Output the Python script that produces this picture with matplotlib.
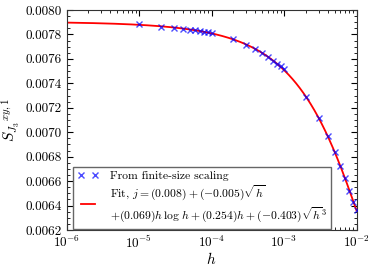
import numpy as np
import matplotlib
matplotlib.use("Agg")
import matplotlib.pyplot as plt
from matplotlib.ticker import AutoMinorLocator, LogLocator, NullFormatter

plt.rcParams['font.family'] = ['cmr10', 'DejaVu Serif']
plt.rcParams['mathtext.fontset'] = 'cm'
plt.rcParams['axes.formatter.use_mathtext'] = True
plt.rcParams['font.size'] = 9

# data
h_vals = [1e-5, 2e-5, 3e-5, 4e-5, 5e-5, 6e-5, 7e-5, 8e-5, 9e-5, 1e-4,
          2e-4, 3e-4, 4e-4, 5e-4, 6e-4, 7e-4, 8e-4, 9e-4, 1e-3,
          2e-3, 3e-3, 4e-3, 5e-3, 6e-3, 7e-3, 8e-3, 9e-3, 1e-2]
s_vals = [0.007883, 0.007863, 0.007855, 0.007847, 0.007839, 0.007834, 0.007828, 0.007822, 0.007818, 0.007812,
          0.007760, 0.007714, 0.007678, 0.007646, 0.007618, 0.007585, 0.007560, 0.007540, 0.007520,
          0.007286, 0.007114, 0.006969, 0.006840, 0.006723, 0.006622, 0.006521, 0.006431, 0.006363]

legend_points = "From finite-size scaling"
legend_fit = ("Fit, $j=(0.008)+(-0.005)\\sqrt{h}$\n"
              "$+(0.069)h\\,\\log\\,h+(0.254)h+(-0.403)\\sqrt{h}^3$")

xlim = (1e-6, 1e-2)
ylim = (0.0062, 0.0080)
yticks = [0.0062, 0.0064, 0.0066, 0.0068, 0.0070, 0.0072, 0.0074, 0.0076, 0.0078, 0.0080]

h = np.array(h_vals)
s = np.array(s_vals)

def basis(x):
    return np.column_stack([np.ones_like(x), np.sqrt(x), x * np.log(x), x, np.sqrt(x) ** 3])

coef, *_ = np.linalg.lstsq(basis(h), s, rcond=None)
hf = np.logspace(-6, -2, 400)
sf = basis(hf) @ coef

fig = plt.figure(figsize=(3.74, 2.74), dpi=100)
ax = fig.add_axes([66.5 / 374, 1 - 230 / 274, (356.5 - 66.5) / 374, (230 - 10) / 274])

ax.plot(h, s, 'x', color='blue', ms=4.5, mew=1.0, alpha=0.7, label=legend_points, zorder=3)
ax.plot(hf, sf, '-', color='red', lw=1.3, label=legend_fit, zorder=2)

ax.set_xscale('log')
ax.set_xlim(*xlim)
ax.set_ylim(*ylim)
ax.set_yticks(yticks)
ax.set_yticklabels(['%.4f' % v for v in yticks])
ax.yaxis.set_minor_locator(AutoMinorLocator(4))
ax.xaxis.set_major_locator(LogLocator(base=10, numticks=10))
ax.xaxis.set_minor_locator(LogLocator(base=10, subs=np.arange(2, 10), numticks=10))
ax.xaxis.set_minor_formatter(NullFormatter())
ax.tick_params(which='both', direction='in', top=True, right=True)
ax.tick_params(which='major', length=4, width=0.8, labelsize=9.5)
ax.tick_params(which='minor', length=2, width=0.6)
for sp in ax.spines.values():
    sp.set_color('0.2')

ax.set_xlabel('$h$', fontsize=11, labelpad=0)
ax.set_ylabel('$S_{J_3}{}^{xy,1}$', fontsize=11, labelpad=2)

leg = ax.legend(loc='lower left', numpoints=2, fontsize=8.4, fancybox=False,
                edgecolor='0.4', framealpha=1, borderpad=0.35, handlelength=1.8,
                handletextpad=1.0, labelspacing=0.25, borderaxespad=0,
                bbox_to_anchor=(6.5 / 290, 1 / 220))
leg.get_frame().set_linewidth(1.0)

fig.savefig('out.png', dpi=100)
